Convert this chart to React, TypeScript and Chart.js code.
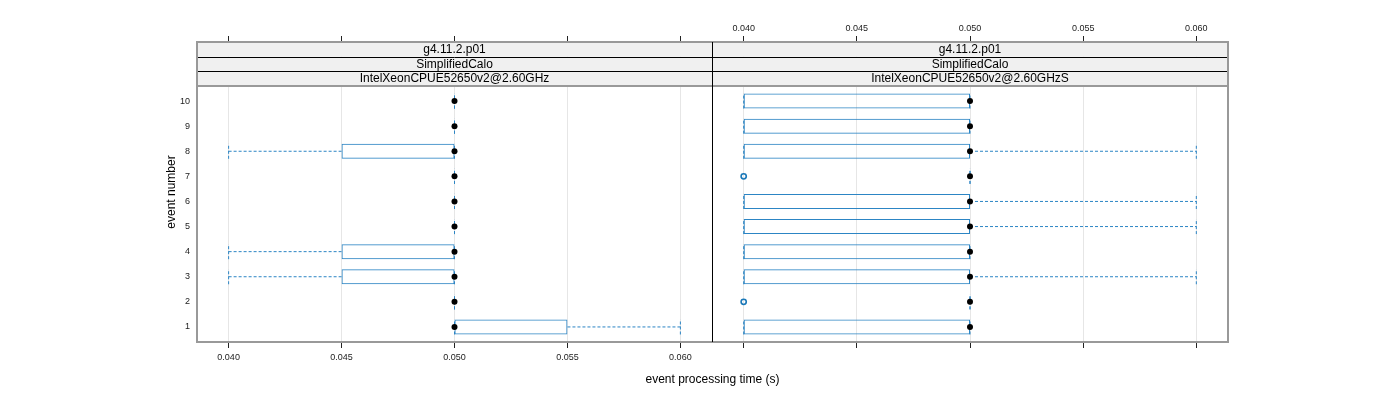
import { useEffect, useRef } from "react";
import { Chart, registerables } from "chart.js";

Chart.register(...registerables);

// ---------------- data ----------------
const eventNumbers = [1, 2, 3, 4, 5, 6, 7, 8, 9, 10];
const xTickValues = [0.04, 0.045, 0.05, 0.055, 0.06];
const xLimits = [0.0386, 0.0614];
const yLimits = [0.4, 10.6];

const xAxisTitle = "event processing time (s)";
const yAxisTitle = "event number";

const stripLabelsA = ["g4.11.2.p01", "SimplifiedCalo", "IntelXeonCPUE52650v2@2.60GHz"];
const stripLabelsB = ["g4.11.2.p01", "SimplifiedCalo", "IntelXeonCPUE52650v2@2.60GHzS"];

// panel A (events 1..10)
const lowerWhiskerA = [0.05, 0.05, 0.04, 0.04, 0.05, 0.05, 0.05, 0.04, 0.05, 0.05];
const lowerHingeA = [0.05, 0.05, 0.045, 0.045, 0.05, 0.05, 0.05, 0.045, 0.05, 0.05];
const medianA = [0.05, 0.05, 0.05, 0.05, 0.05, 0.05, 0.05, 0.05, 0.05, 0.05];
const upperHingeA = [0.055, 0.05, 0.05, 0.05, 0.05, 0.05, 0.05, 0.05, 0.05, 0.05];
const upperWhiskerA = [0.06, 0.05, 0.05, 0.05, 0.05, 0.05, 0.05, 0.05, 0.05, 0.05];
const outlierEventsA: number[] = [];
const outlierValuesA: number[] = [];

// panel B (events 1..10)
const lowerWhiskerB = [0.04, 0.05, 0.04, 0.04, 0.04, 0.04, 0.05, 0.04, 0.04, 0.04];
const lowerHingeB = [0.04, 0.05, 0.04, 0.04, 0.04, 0.04, 0.05, 0.04, 0.04, 0.04];
const medianB = [0.05, 0.05, 0.05, 0.05, 0.05, 0.05, 0.05, 0.05, 0.05, 0.05];
const upperHingeB = [0.05, 0.05, 0.05, 0.05, 0.05, 0.05, 0.05, 0.05, 0.05, 0.05];
const upperWhiskerB = [0.05, 0.05, 0.06, 0.05, 0.06, 0.06, 0.05, 0.06, 0.05, 0.05];
const outlierEventsB = [2, 7];
const outlierValuesB = [0.04, 0.04];

// ---------------- style / layout ----------------
const FONT = "'Liberation Sans', Arial, Helvetica, sans-serif";
const BLUE = "#2c85c4";
const FRAME_GRAY = "#999999";
const LAYOUT = { left: 197, split: 712, right: 1228, top: 42, stripH: 44, bottom: 342, W: 1400, H: 400 };
const STAPLE_HALF = 0.3;
const BOX_PX = 15;

const plotH = LAYOUT.bottom - LAYOUT.top - LAYOUT.stripH;
const yTop = yLimits[1] + (LAYOUT.stripH * (yLimits[1] - yLimits[0])) / plotH;

type Panel = {
  lw: number[]; lh: number[]; med: number[]; uh: number[]; uw: number[];
  oe: number[]; ov: number[]; strips: string[]; first: boolean;
};

const stripPlugin = {
  id: "strips",
  beforeDatasetsDraw(chart: any, _a: any, opts: any) {
    const { ctx, chartArea } = chart;
    const { left, right, top } = chartArea;
    const labels: string[] = opts.labels || [];
    const h = LAYOUT.stripH / labels.length;
    ctx.save();
    labels.forEach((lab, i) => {
      const y0 = top + i * h;
      ctx.fillStyle = "#f0f0f0";
      ctx.fillRect(left, y0, right - left, h);
      ctx.fillStyle = "#000";
      ctx.font = `12px ${FONT}`;
      ctx.textAlign = "center";
      ctx.textBaseline = "middle";
      ctx.fillText(lab, (left + right) / 2, y0 + h / 2 + 0.5);
    });
    ctx.strokeStyle = "#000";
    ctx.lineWidth = 1;
    for (let i = 1; i < labels.length; i++) {
      const y = Math.round(top + i * h) + 0.5;
      ctx.beginPath();
      ctx.moveTo(left, y);
      ctx.lineTo(right, y);
      ctx.stroke();
    }
    ctx.restore();
  },
  afterDatasetsDraw(chart: any, _a: any, opts: any) {
    const { ctx, chartArea } = chart;
    const { left, right, top, bottom } = chartArea;
    ctx.save();
    ctx.strokeStyle = FRAME_GRAY;
    ctx.lineWidth = 2;
    ctx.beginPath();
    ctx.moveTo(left, top); ctx.lineTo(right, top);
    ctx.moveTo(left, bottom); ctx.lineTo(right, bottom);
    ctx.moveTo(left, top + LAYOUT.stripH); ctx.lineTo(right, top + LAYOUT.stripH);
    const outerX = opts.inner === "right" ? left : right;
    ctx.moveTo(outerX, top - 1); ctx.lineTo(outerX, bottom + 1);
    ctx.stroke();
    ctx.strokeStyle = "#000";
    ctx.lineWidth = 1;
    const innerX = (opts.inner === "right" ? right : left) + 0.5;
    ctx.beginPath();
    ctx.moveTo(innerX, top); ctx.lineTo(innerX, bottom);
    ctx.stroke();
    ctx.restore();
  },
};

function buildConfig(p: Panel): any {
  const whiskers: any[] = [];
  const staples: any[] = [];
  eventNumbers.forEach((e, i) => {
    whiskers.push({ x: p.lw[i], y: e }, { x: p.lh[i], y: e }, { x: null, y: null });
    whiskers.push({ x: p.uh[i], y: e }, { x: p.uw[i], y: e }, { x: null, y: null });
    staples.push({ x: p.lw[i], y: e - STAPLE_HALF }, { x: p.lw[i], y: e + STAPLE_HALF }, { x: null, y: null });
    staples.push({ x: p.uw[i], y: e - STAPLE_HALF }, { x: p.uw[i], y: e + STAPLE_HALF }, { x: null, y: null });
  });
  const tickFont = { family: FONT, size: 9 };
  const setTicks = (s: any) => { s.ticks = xTickValues.map((v) => ({ value: v })); };
  const fmt = (v: any) => Number(v).toFixed(3);

  return {
    type: "scatter",
    data: {
      datasets: [
        {
          type: "scatter",
          data: eventNumbers.map((e, i) => ({ x: p.med[i], y: e })),
          pointRadius: 3,
          pointBackgroundColor: "#000",
          pointBorderWidth: 0,
          order: 0,
        },
        {
          type: "scatter",
          data: p.oe.map((e, i) => ({ x: p.ov[i], y: e })),
          pointRadius: 2.6,
          pointBackgroundColor: "rgba(0,0,0,0)",
          pointBorderColor: "#1a78b8",
          pointBorderWidth: 1.6,
          order: 1,
        },
        {
          type: "bar",
          indexAxis: "y",
          data: eventNumbers.map((e, i) => ({ y: e, x: [p.lh[i], p.uh[i]] })),
          borderColor: BLUE,
          backgroundColor: "rgba(0,0,0,0)",
          borderWidth: 1,
          borderSkipped: false,
          inflateAmount: 0,
          barThickness: BOX_PX,
          order: 2,
        },
        {
          type: "line",
          data: staples,
          showLine: true,
          borderColor: BLUE,
          borderWidth: 1,
          borderDash: [3, 2],
          pointRadius: 0,
          spanGaps: false,
          fill: false,
          order: 3,
        },
        {
          type: "line",
          data: whiskers,
          showLine: true,
          borderColor: BLUE,
          borderWidth: 1,
          borderDash: [3, 2],
          pointRadius: 0,
          spanGaps: false,
          fill: false,
          order: 4,
        },
      ],
    },
    options: {
      responsive: false,
      animation: false,
      events: [],
      devicePixelRatio: 1,
      layout: {
        padding: p.first
          ? { left: 160, right: LAYOUT.W - LAYOUT.split, top: 0, bottom: 0 }
          : { left: LAYOUT.split, right: LAYOUT.W - LAYOUT.right, top: 0, bottom: 0 },
      },
      plugins: {
        legend: { display: false },
        tooltip: { enabled: false },
        strips: { labels: p.strips, inner: p.first ? "right" : "left" },
      },
      scales: {
        x: {
          type: "linear",
          position: "bottom",
          min: xLimits[0],
          max: xLimits[1],
          offset: false,
          afterBuildTicks: setTicks,
          afterFit: (s: any) => { s.height = LAYOUT.H - LAYOUT.bottom; },
          grid: { color: "#e6e6e6", lineWidth: 1, drawTicks: true, tickLength: 6, tickColor: "#222", tickWidth: 1, offset: false },
          border: { display: false },
          ticks: { display: p.first, padding: 4, font: tickFont, color: "#222", callback: fmt, maxRotation: 0, autoSkip: false },
        },
        xTop: {
          type: "linear",
          position: "top",
          min: xLimits[0],
          max: xLimits[1],
          offset: false,
          afterBuildTicks: setTicks,
          afterFit: (s: any) => { s.height = LAYOUT.top; },
          grid: { drawOnChartArea: false, drawTicks: true, tickLength: 6, tickColor: "#222", tickWidth: 1 },
          border: { display: false },
          ticks: { display: !p.first, padding: 2, font: tickFont, color: "#222", callback: fmt, maxRotation: 0, autoSkip: false },
        },
        y: {
          type: "linear",
          display: p.first,
          min: yLimits[0],
          max: yTop,
          offset: false,
          afterBuildTicks: (s: any) => { s.ticks = eventNumbers.map((v) => ({ value: v })); },
          afterFit: (s: any) => { s.width = p.first ? LAYOUT.left - 160 : 0; },
          grid: { display: false, drawTicks: false },
          border: { display: false },
          ticks: { padding: 7, font: tickFont, color: "#222", callback: (v: any) => String(v) },
          title: { display: true, text: yAxisTitle, color: "#000", font: { family: FONT, size: 12 }, padding: { top: 4, bottom: 0 } },
        },
      },
    },
    plugins: [stripPlugin],
  };
}

const panelA: Panel = {
  lw: lowerWhiskerA, lh: lowerHingeA, med: medianA, uh: upperHingeA, uw: upperWhiskerA,
  oe: outlierEventsA, ov: outlierValuesA, strips: stripLabelsA, first: true,
};
const panelB: Panel = {
  lw: lowerWhiskerB, lh: lowerHingeB, med: medianB, uh: upperHingeB, uw: upperWhiskerB,
  oe: outlierEventsB, ov: outlierValuesB, strips: stripLabelsB, first: false,
};

export default function App() {
  const c1 = useRef<HTMLCanvasElement>(null);
  const c2 = useRef<HTMLCanvasElement>(null);
  useEffect(() => {
    const ch1 = new Chart(c1.current as HTMLCanvasElement, buildConfig(panelA));
    const ch2 = new Chart(c2.current as HTMLCanvasElement, buildConfig(panelB));
    return () => {
      ch1.destroy();
      ch2.destroy();
    };
  }, []);
  const canvasStyle: any = { position: "absolute", left: 0, top: 0, width: LAYOUT.W, height: LAYOUT.H };
  return (
    <div style={{ position: "absolute", left: 0, top: 0, width: LAYOUT.W, height: LAYOUT.H, background: "#fff" }}>
      <canvas ref={c1} width={LAYOUT.W} height={LAYOUT.H} style={canvasStyle} />
      <canvas ref={c2} width={LAYOUT.W} height={LAYOUT.H} style={canvasStyle} />
      <div
        style={{
          position: "absolute",
          left: LAYOUT.left,
          width: LAYOUT.right - LAYOUT.left,
          top: 371,
          textAlign: "center",
          fontFamily: FONT,
          fontSize: 12,
          color: "#000",
          lineHeight: "16px",
        }}
      >
        {xAxisTitle}
      </div>
    </div>
  );
}
